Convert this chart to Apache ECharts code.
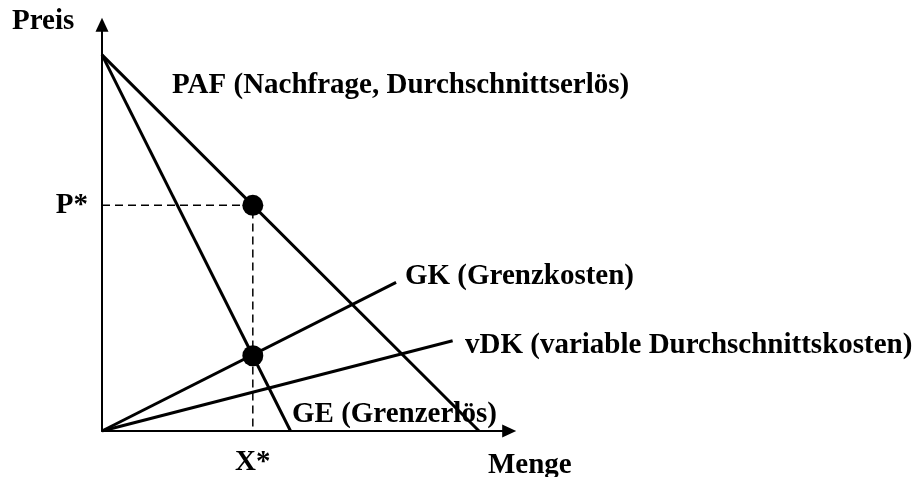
<!DOCTYPE html>
<html>
<head>
<meta charset="utf-8">
<script src="https://cdn.jsdelivr.net/npm/echarts@6/dist/echarts.min.js"></script>
<style>html,body{margin:0;padding:0;background:#fff;}#c{width:922px;height:477px;}</style>
</head>
<body>
<div id="c"></div>
<script>
// Data (abstract units: price / quantity)
const pafLine = [[0, 100], [100, 0]];      // PAF (Nachfrage, Durchschnittserlös)
const geLine = [[0, 100], [50, 0]];        // GE (Grenzerlös)
const gkLine = [[0, 0], [78, 39.5]];       // GK (Grenzkosten)
const vdkLine = [[0, 0], [93, 24]];        // vDK (variable Durchschnittskosten)
const optimumGuide = [[0, 60], [40, 60], [40, 0]];
const keyPoints = [[40, 60], [40, 20]];
const xStarValue = 40;
const pStarValue = 60;
const xTickLabel = 'X*';
const yTickLabel = 'P*';
const labels = {
  preis: 'Preis',
  menge: 'Menge',
  paf: 'PAF (Nachfrage, Durchschnittserlös)',
  gk: 'GK (Grenzkosten)',
  vdk: 'vDK (variable Durchschnittskosten)',
  ge: 'GE (Grenzerlös)'
};

const FONT = '"Liberation Serif", "Times New Roman", serif';
const FS = 29;
const font = 'bold ' + FS + 'px ' + FONT;
const chart = echarts.init(document.getElementById('c'), null, {renderer: 'canvas'});

const solid = {color: '#000', width: 3};
function lineSeries(name, data, style) {
  return {
    name, type: 'line', data, symbol: 'none', silent: true, animation: false,
    lineStyle: style || solid
  };
}

chart.setOption({
  animation: false,
  backgroundColor: '#fff',
  grid: {left: 102, top: 24.8, width: 407.2, height: 407.2, containLabel: false},
  xAxis: {
    type: 'value', min: 0, max: 108, interval: 4,
    axisLine: {show: true, onZero: false, symbol: ['none', 'triangle'], symbolSize: [13, 14],
      lineStyle: {color: '#000', width: 2}},
    axisTick: {show: false},
    splitLine: {show: false},
    axisLabel: {
      show: true, margin: 17, color: '#000',
      fontFamily: FONT, fontWeight: 'bold', fontSize: FS,
      formatter: v => (v === xStarValue ? xTickLabel : ''),
      showMinLabel: true, showMaxLabel: false
    }
  },
  yAxis: {
    type: 'value', min: 0, max: 108, interval: 4,
    axisLine: {show: true, onZero: false, symbol: ['none', 'triangle'], symbolSize: [13, 14],
      lineStyle: {color: '#000', width: 2}},
    axisTick: {show: false},
    splitLine: {show: false},
    axisLabel: {
      show: true, margin: 14, color: '#000',
      fontFamily: FONT, fontWeight: 'bold', fontSize: FS,
      padding: [6, 0, 0, 0],
      formatter: v => (v === pStarValue ? yTickLabel : ''),
      showMaxLabel: false
    }
  },
  series: [
    lineSeries('guide', optimumGuide, {color: '#000', width: 1.5, type: [8, 5]}),
    lineSeries('PAF', pafLine),
    lineSeries('GE', geLine),
    lineSeries('GK', gkLine),
    lineSeries('vDK', vdkLine),
    {
      type: 'scatter', data: keyPoints, symbol: 'circle', symbolSize: 21,
      itemStyle: {color: '#000', opacity: 1}, silent: true, z: 5
    }
  ],
  graphic: [
    {type: 'text', left: 12, top: 7, style: {text: labels.preis, font, fill: '#000'}},
    {type: 'text', left: 172, top: 71, style: {text: labels.paf, font, fill: '#000'}},
    {type: 'text', left: 405, top: 262, style: {text: labels.gk, font, fill: '#000'}},
    {type: 'text', left: 465, top: 331, style: {text: labels.vdk, font, fill: '#000'}},
    {type: 'text', left: 292, top: 400, style: {text: labels.ge, font, fill: '#000'}},
    {type: 'text', left: 488, top: 451, style: {text: labels.menge, font, fill: '#000'}}
  ]
});
</script>
</body>
</html>
